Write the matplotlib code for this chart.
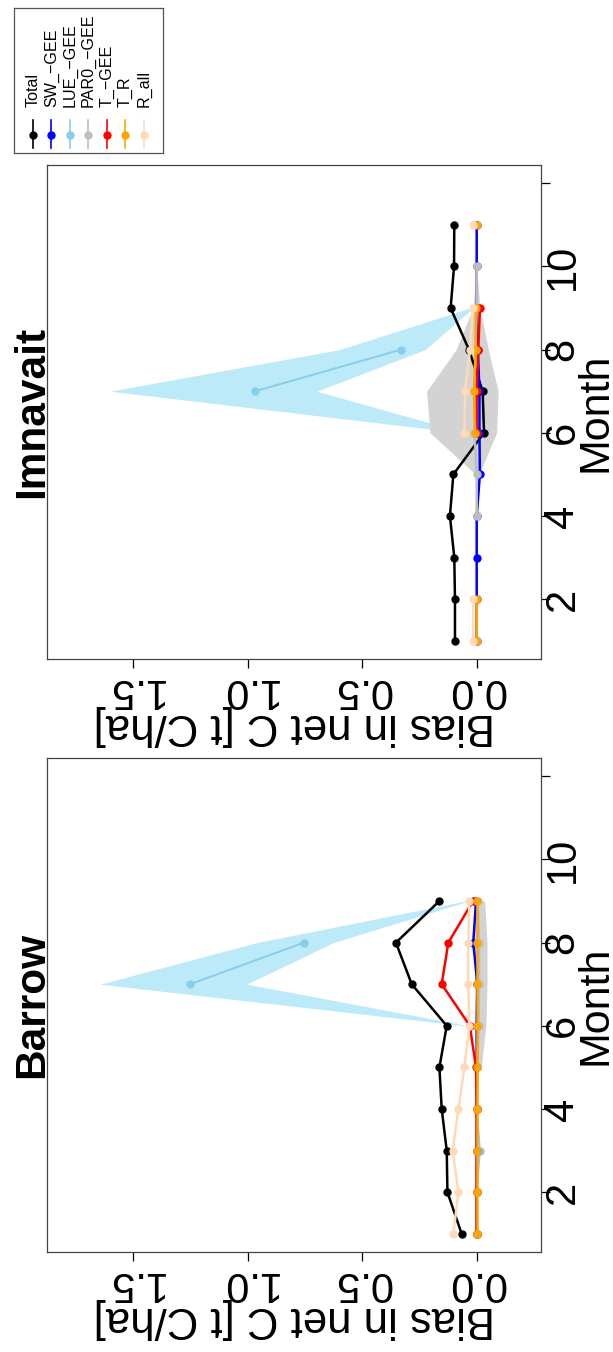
"""
Monthly bias in net C for Barrow and Imnavait, drawn in the rotated
(portrait) layout of the original figure.
"""
import numpy as np
import matplotlib
matplotlib.use("Agg")
import matplotlib.pyplot as plt

plt.rcParams["font.family"] = ["Liberation Sans", "DejaVu Sans"]

nan = np.nan

SERIES_NAMES = ["Total", "SW_\u2212GEE", "LUE_\u2212GEE", "PAR0_\u2212GEE", "T_\u2212GEE", "T_R", "R_all"]
SERIES_COLORS = ["black", "blue", "#87CEEB", "#BEBEBE", "red", "orange", "#FFDAB9"]

BIAS_TICKS = [0.0, 0.5, 1.0, 1.5]
BIAS_TICK_LABELS = ["0.0", "0.5", "1.0", "1.5"]
MONTH_TICKS = [2, 4, 6, 8, 10, 12]
MONTH_TICK_LABELS = ["2", "4", "6", "8", "10", ""]

# ---- Barrow (months 1-9)
months_b = [1, 2, 3, 4, 5, 6, 7, 8, 9]
total_b = [0.066, 0.128, 0.131, 0.153, 0.163, 0.131, 0.284, 0.353, 0.163]
sw_b = [0.0, 0.0, 0.0, 0.0, 0.0, 0.0, -0.003, 0.015, 0.003]
lue_b = [0.0, 0.0, -0.014, 0.0, 0.0, nan, 1.253, 0.755, nan]
par0_b = [0.0, 0.0, 0.0, 0.0, -0.003, -0.008, -0.01, -0.01, -0.005]
tgee_b = [0.0, 0.0, 0.0, 0.0, 0.003, 0.03, 0.153, 0.124, 0.016]
tr_b = [0.0, 0.0, 0.0, 0.0, 0.0, 0.0, 0.0, 0.0, 0.0]
rall_b = [0.102, 0.080, 0.105, 0.080, 0.054, 0.032, 0.037, 0.037, 0.032]
lue_lo_b = [nan, nan, nan, nan, nan, 0.035, 1.005, 0.627, 0.035]
lue_hi_b = [nan, nan, nan, nan, nan, 0.05, 1.646, 0.962, 0.05]
par0_lo_b = [nan, nan, nan, nan, -0.02, -0.04, -0.045, -0.045, -0.035]
par0_hi_b = [nan, nan, nan, nan, 0.0, 0.01, 0.01, 0.01, 0.005]

# ---- Imnavait (months 1-11)
months_i = [1, 2, 3, 4, 5, 6, 7, 8, 9, 10, 11]
total_i = [0.095, 0.095, 0.098, 0.117, 0.102, -0.032, -0.026, 0.034, 0.114, 0.099, 0.098]
sw_i = [0.0, 0.0, 0.0, 0.0, -0.014, -0.012, -0.012, -0.005, 0.0, 0.0, 0.0]
lue_i = [nan, nan, nan, nan, nan, nan, 0.968, 0.331, nan, nan, nan]
par0_i = [nan, nan, nan, 0.0, 0.0, 0.01, 0.01, 0.005, 0.0, 0.0, nan]
tgee_i = [nan, nan, nan, nan, nan, 0.0, 0.0, -0.007, -0.014, nan, nan]
tr_i = [0.0, 0.0, nan, nan, nan, 0.007, 0.012, 0.004, 0.004, nan, 0.0]
rall_i = [0.015, 0.015, nan, nan, nan, 0.054, 0.051, 0.029, 0.018, nan, 0.015]
lue_lo_i = [nan, nan, nan, nan, nan, 0.05, 0.699, 0.226, 0.015, nan, nan]
lue_hi_i = [nan, nan, nan, nan, nan, 0.065, 1.603, 0.600, 0.03, nan, nan]
par0_lo_i = [nan, nan, nan, 0.0, -0.01, -0.087, -0.094, -0.051, -0.014, 0.0, nan]
par0_hi_i = [nan, nan, nan, 0.0, 0.005, 0.204, 0.219, 0.09, 0.016, 0.0, nan]

W, H = 613, 1352
fig = plt.figure(figsize=(W / 100, H / 100), dpi=100)


def px_axes(left, top, right, bottom):
    return fig.add_axes([left / W, 1 - bottom / H, (right - left) / W, (bottom - top) / H])


def draw_panel(ax, months, series, lue_band, par0_band, title):
    ax.fill_betweenx(months, lue_band[0], lue_band[1], color="#BDEAF9", lw=0, zorder=1)
    ax.fill_betweenx(months, par0_band[0], par0_band[1], color="#D3D3D3", lw=0, zorder=1)
    for vals, name, color in zip(series, SERIES_NAMES, SERIES_COLORS):
        lw = 1.4 if name.startswith("LUE") else 1.8
        ax.plot(vals, months, color=color, lw=lw, marker="o", ms=5, zorder=2)

    ax.set_xlim(1.878, -0.281)
    ax.set_ylim(0.56, 12.44)
    ax.set_xticks(BIAS_TICKS, BIAS_TICK_LABELS)
    ax.set_yticks(MONTH_TICKS, MONTH_TICK_LABELS)
    ax.yaxis.tick_right()
    ax.tick_params(axis="x", direction="out", length=6.5, width=0.9, pad=1.5,
                   labelsize=30, labelrotation=180)
    ax.tick_params(axis="y", direction="out", length=6.5, width=0.9, pad=-5.5,
                   labelsize=30, labelrotation=90)
    plt.setp(ax.get_yticklabels(), va="center")
    for sp in ax.spines.values():
        sp.set_color("#444444")
        sp.set_linewidth(0.9)

    ax.text(-0.0081, 0.5, title, transform=ax.transAxes, rotation=90,
            rotation_mode="anchor", ha="center", va="baseline",
            fontsize=30.5, fontweight="bold")
    ax.text(1.1336, 0.5, "Month", transform=ax.transAxes, rotation=90,
            rotation_mode="anchor", ha="center", va="baseline", fontsize=31)
    ax.text(0.5, -0.1113, "Bias in net C [t C/ha]", transform=ax.transAxes,
            rotation=180, rotation_mode="anchor", ha="center", va="baseline",
            fontsize=31.5)


ax_b = px_axes(47, 758, 541, 1252)
draw_panel(ax_b, months_b,
           [total_b, sw_b, lue_b, par0_b, tgee_b, tr_b, rall_b],
           (lue_lo_b, lue_hi_b), (par0_lo_b, par0_hi_b), "Barrow")

ax_i = px_axes(47, 165, 541, 659)
draw_panel(ax_i, months_i,
           [total_i, sw_i, lue_i, par0_i, tgee_i, tr_i, rall_i],
           (lue_lo_i, lue_hi_i), (par0_lo_i, par0_hi_i), "Imnavait")

# legend, rotated like the rest of the figure
lax = px_axes(14.3, 8.3, 162.7, 152.7)
lax.set_xlim(14.3, 162.7)
lax.set_ylim(152.7, 8.3)
lax.set_xticks([])
lax.set_yticks([])
for sp in lax.spines.values():
    sp.set_color("#555555")
    sp.set_linewidth(0.9)
for k, (name, color) in enumerate(zip(SERIES_NAMES, SERIES_COLORS)):
    x = 32.7 + 18.55 * k
    lax.plot([x, x], [120, 148], color=color, lw=1.2)
    lax.plot([x], [135], "o", color=color, ms=5)
    lax.text(x, 107, name, rotation=90, rotation_mode="anchor",
             ha="left", va="center", fontsize=11.6)

fig.savefig("out.png", dpi=100)
